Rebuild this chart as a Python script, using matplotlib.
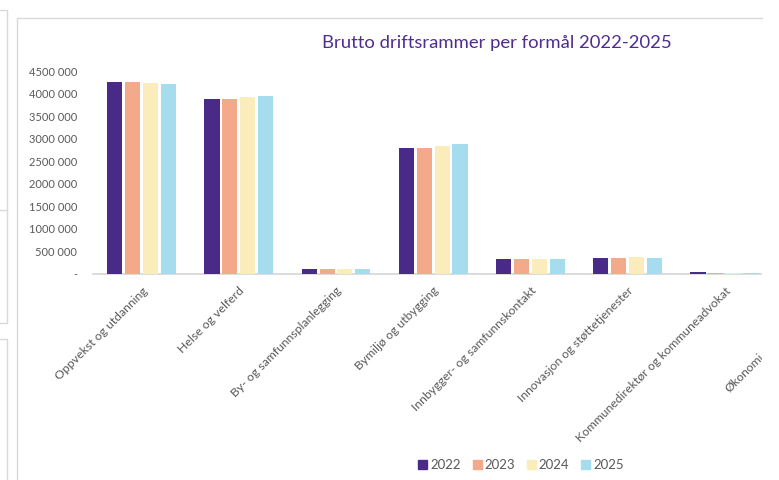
import matplotlib.pyplot as plt
import numpy as np
from matplotlib.lines import Line2D
from matplotlib.patches import Rectangle
from matplotlib.transforms import ScaledTranslation

plt.rcParams['font.family'] = ['Lato', 'DejaVu Sans']

categories = ["Oppvekst og utdanning", "Helse og velferd", "By- og samfunnsplanlegging",
              "Bymiljø og utbygging", "Innbygger- og samfunnskontakt",
              "Innovasjon og støttetjenester", "Kommunedirektør og kommuneadvokat", "Økonomi"]
years = ["2022", "2023", "2024", "2025"]
v2022 = [4260000, 3870000, 110000, 2790000, 330000, 360000, 35000, 30000]
v2023 = [4260000, 3870000, 110000, 2790000, 330000, 360000, 30000, 30000]
v2024 = [4240000, 3915000, 120000, 2840000, 335000, 375000, 30000, 30000]
v2025 = [4220000, 3935000, 110000, 2880000, 330000, 360000, 30000, 30000]
yticks = [0, 500000, 1000000, 1500000, 2000000, 2500000, 3000000, 3500000, 4000000, 4500000]
ytick_labels = ["-", "500 000", "1000 000", "1500 000", "2000 000", "2500 000",
                "3000 000", "3500 000", "4000 000", "4500 000"]

colors = ["#4A2A88", "#F4A98A", "#FBEDBB", "#A6DDEE"]
grey = "#595959"
W, H = 779, 480

fig = plt.figure(figsize=(W / 100, H / 100), dpi=100)
ax = fig.add_axes([93 / W, 1 - 274 / H, 8 * 97.2 / W, 203 / H])

x = np.arange(len(categories))
pitch = 0.184
for i, vals in enumerate([v2022, v2023, v2024, v2025]):
    ax.bar(x + (i - 1.5) * pitch, vals, width=0.155, color=colors[i],
           linewidth=0, label=years[i])

ax.set_xlim(-0.5, len(categories) - 0.5)
ax.set_ylim(0, 4500000)
ax.set_yticks(yticks)
ax.set_yticklabels(ytick_labels)
ax.set_xticks(x)
ax.set_xticklabels(categories, rotation=45, ha="right", rotation_mode="anchor")
for s in ["top", "right", "left"]:
    ax.spines[s].set_visible(False)
ax.spines["bottom"].set_color("#D9D9D9")
ax.spines["bottom"].set_linewidth(1.3)
ax.spines["bottom"].set_zorder(0.5)
ax.tick_params(axis="y", length=0, pad=11.5, labelsize=8, labelcolor=grey)
ax.tick_params(axis="x", length=0, pad=8, labelsize=8.8, labelcolor=grey)

# last label is cut off by the screenshot edge, only its start is visible
lab = ax.get_xticklabels()[-1]
lab.set_transform(lab.get_transform() + ScaledTranslation(-0.64, -0.66, fig.dpi_scale_trans))

fig.text(497 / W, 1 - 43 / H, "Brutto driftsrammer per formål 2022-2025",
         ha="center", va="center", fontsize=13.3, color="#4F2D8F")

handles = [Rectangle((0, 0), 1, 1, color=c) for c in colors]
fig.legend(handles, years, loc="center", bbox_to_anchor=(521 / W, 1 - 465 / H), ncol=4,
           frameon=False, fontsize=9.5, labelcolor=grey, handlelength=0.7, handleheight=0.7,
           handletextpad=0.2, columnspacing=0.9)

# screenshot crop at the right edge
fig.add_artist(Rectangle((762 / W, 0), 1, 1, transform=fig.transFigure,
                         facecolor="white", edgecolor="none", zorder=20))

# surrounding frames from the screenshot
def fline(xs, ys):
    fig.add_artist(Line2D([a / W for a in xs], [1 - b / H for b in ys],
                          transform=fig.transFigure, color="#D9D9D9", lw=1.0, zorder=21))

fline([17, 17, 762], [480, 18, 18])
fline([0, 7, 7, 0], [10, 10, 323, 323])
fline([0, 7, 7], [339, 339, 480])
fline([0, 7], [210, 210])

fig.savefig("out.png", dpi=100)
